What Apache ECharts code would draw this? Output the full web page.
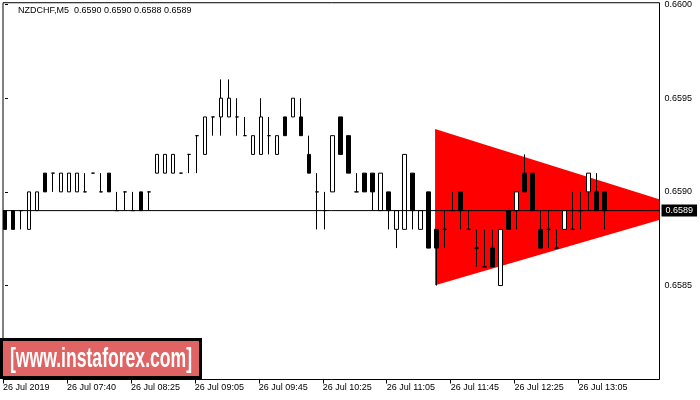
<!DOCTYPE html>
<html><head><meta charset="utf-8">
<script src="https://cdn.jsdelivr.net/npm/echarts@6/dist/echarts.min.js"></script>
<style>html,body{margin:0;padding:0;background:#fff}#c{width:700px;height:400px}</style>
</head><body><div id="c"></div>
<script>
const symbol = 'NZDCHF,M5';
const opens = [
 0.6589,0.6589,0.6589,0.6588,0.6589,0.6591,0.6591,0.6590,0.6590,0.6590,
 0.6590,0.6591,0.6590,0.6591,0.6589,0.6590,0.6589,0.6590,0.6590,0.6591,
 0.6591,0.6591,0.6591,0.6592,0.6593,0.6592,0.6594,0.6594,0.6594,0.6594,
 0.6593,0.6592,0.6592,0.6593,0.6592,0.6594,0.6594,0.6594,0.6592,0.6590,
 0.6589,0.6590,0.6594,0.6593,0.6590,0.6591,0.6591,0.6589,0.6590,0.6588,
 0.6588,0.6591,0.6588,0.6590,0.6588,0.6588,0.6589,0.6590,0.6588,0.6587,
 0.6586,0.6587,0.6585,0.6589,0.6589,0.6591,0.6591,0.6588,0.6588,0.6587,
 0.6588,0.6588,0.6589,0.6590,0.6590,0.6590];
const highs = [
 0.6589,0.6589,0.6589,0.6590,0.6590,0.6591,0.6591,0.6591,0.6591,0.6591,
 0.6591,0.6591,0.6591,0.6591,0.6590,0.6590,0.6590,0.6590,0.6590,0.6592,
 0.6592,0.6592,0.6591,0.6592,0.6593,0.6594,0.6594,0.6596,0.6596,0.6595,
 0.6594,0.6593,0.6595,0.6594,0.6593,0.6594,0.6595,0.6595,0.6593,0.6591,
 0.6590,0.6593,0.6594,0.6593,0.6591,0.6591,0.6591,0.6591,0.6590,0.6589,
 0.6592,0.6591,0.6589,0.6590,0.6588,0.6589,0.6590,0.6590,0.6589,0.6588,
 0.6588,0.6588,0.6588,0.6589,0.6590,0.6592,0.6591,0.6589,0.6589,0.6588,
 0.6589,0.6590,0.6590,0.6591,0.6591,0.6590];
const lows = [
 0.6588,0.6588,0.6588,0.6588,0.6589,0.6590,0.6590,0.6590,0.6590,0.6590,
 0.6590,0.6591,0.6590,0.6590,0.6589,0.6589,0.6589,0.6589,0.6589,0.6591,
 0.6591,0.6591,0.6591,0.6591,0.6591,0.6592,0.6593,0.6593,0.6594,0.6593,
 0.6593,0.6592,0.6592,0.6592,0.6592,0.6593,0.6594,0.6593,0.6591,0.6588,
 0.6588,0.6590,0.6592,0.6591,0.6590,0.6590,0.6589,0.6589,0.6588,0.6587,
 0.6588,0.6588,0.6588,0.6587,0.6585,0.6587,0.6589,0.6588,0.6588,0.6586,
 0.6586,0.6586,0.6585,0.6588,0.6588,0.6590,0.6589,0.6587,0.6587,0.6587,
 0.6588,0.6588,0.6588,0.6589,0.6589,0.6588];
const closes = [
 0.6588,0.6588,0.6589,0.6590,0.6590,0.6590,0.6591,0.6591,0.6591,0.6591,
 0.6590,0.6591,0.6590,0.6590,0.6589,0.6590,0.6589,0.6589,0.6590,0.6592,
 0.6592,0.6592,0.6591,0.6592,0.6593,0.6594,0.6594,0.6595,0.6595,0.6594,
 0.6593,0.6593,0.6594,0.6593,0.6593,0.6593,0.6595,0.6593,0.6591,0.6590,
 0.6589,0.6593,0.6592,0.6591,0.6590,0.6590,0.6590,0.6591,0.6589,0.6589,
 0.6592,0.6589,0.6589,0.6587,0.6587,0.6588,0.6589,0.6589,0.6588,0.6587,
 0.6586,0.6586,0.6588,0.6588,0.6590,0.6590,0.6589,0.6587,0.6588,0.6587,
 0.6589,0.6588,0.6589,0.6591,0.6589,0.6589];
const timeLabels = ['26 Jul 2019','26 Jul 07:40','26 Jul 08:25','26 Jul 09:05','26 Jul 09:45',
 '26 Jul 10:25','26 Jul 11:05','26 Jul 11:45','26 Jul 12:25','26 Jul 13:05'];
const labelBarIndex = [0,8,16,24,32,40,48,56,64,72];
const priceTicks = [0.6585,0.6590,0.6595,0.6600];
const currentPrice = 0.6589;
const triangleBar = [53.8, 53.8, 86.15];
const trianglePrice = [0.659336, 0.658502, 0.658903];
const watermark = '[www.instaforex.com]';

const FONT = '"Liberation Sans", Arial, sans-serif';
const X_MIN = -0.25, X_MAX = 81.875;
const Y_MIN = 0.6579987, Y_MAX = 0.6600094;
const last = opens.length - 1;
const header = symbol + '  ' + [opens[last], highs[last], lows[last], closes[last]].map(v => v.toFixed(4)).join(' ');
const candles = opens.map((o, i) => [i, o, closes[i], lows[i], highs[i]]);
const tickVals = labelBarIndex.map(b => b - 0.25);

const chart = echarts.init(document.getElementById('c'), null, {renderer: 'canvas'});
chart.setOption({
  animation: false,
  backgroundColor: '#fff',
  textStyle: {fontFamily: FONT},
  title: {text: header, left: 13, top: 1, textStyle: {fontSize: 9, fontWeight: 'normal', color: '#000', fontFamily: FONT}},
  grid: {left: 2.5, right: 40.5, top: 2.5, bottom: 20.5, show: true, borderColor: '#000', borderWidth: 1, backgroundColor: '#fff'},
  xAxis: {
    type: 'value', min: X_MIN, max: X_MAX,
    axisLine: {show: false},
    splitLine: {show: false},
    axisTick: {show: true, inside: false, length: 4, lineStyle: {color: '#000'}, customValues: tickVals},
    axisLabel: {customValues: tickVals, align: 'left', margin: 4, color: '#000', fontSize: 9, fontFamily: FONT,
      formatter: v => timeLabels[labelBarIndex.indexOf(Math.round(v + 0.25))] || ''}
  },
  yAxis: {
    type: 'value', position: 'right', min: Y_MIN, max: Y_MAX, scale: true,
    axisLine: {show: false},
    splitLine: {show: false},
    axisTick: {show: true, length: 3, lineStyle: {color: '#000'}, customValues: priceTicks},
    axisLabel: {customValues: priceTicks, margin: 5, color: '#000', fontSize: 9, fontFamily: FONT, formatter: v => v.toFixed(4)}
  },
  series: [
    {
      type: 'custom', z: 1, silent: true,
      data: triangleBar.map((b, k) => [b, trianglePrice[k]]),
      encode: {x: 0, y: 1},
      renderItem: (params, api) => {
        if (params.dataIndex !== 0) return null;
        const pts = triangleBar.map((b, k) => api.coord([b, trianglePrice[k]]));
        const cs = params.coordSys;
        return {type: 'polygon', shape: {points: pts}, style: {fill: '#ff0000'},
          clipPath: {type: 'rect', shape: {x: cs.x, y: cs.y, width: cs.width, height: cs.height}}};
      }
    },
    {
      type: 'candlestick', z: 3, silent: true, barWidth: 4,
      data: candles,
      encode: {x: 0, y: [1, 2, 3, 4]},
      itemStyle: {color: '#fff', color0: '#000', borderColor: '#000', borderColor0: '#000', borderColorDoji: '#000', borderWidth: 1}
    },
    {
      type: 'line', z: 4, silent: true, symbol: 'none',
      data: [[X_MIN, currentPrice], [X_MAX, currentPrice]],
      lineStyle: {color: '#000', width: 1},
      endLabel: {show: true, formatter: () => currentPrice.toFixed(4), color: '#fff', backgroundColor: '#000',
        padding: [2, 4, 1, 4], fontSize: 9, fontFamily: FONT, distance: 2}
    }
  ],
  graphic: [
    {type: 'rect', z: 100, shape: {x: 1.5, y: 339.5, width: 199, height: 38},
      style: {fill: '#E06464', stroke: '#000', lineWidth: 3}},
    {type: 'text', z: 101, x: 101, y: 359.5, scaleY: 1.55,
      style: {text: watermark, fill: '#fff', font: 'bold 17.6px "Liberation Sans", Arial, sans-serif', textAlign: 'center', textVerticalAlign: 'middle'}}
  ]
});
</script></body></html>
